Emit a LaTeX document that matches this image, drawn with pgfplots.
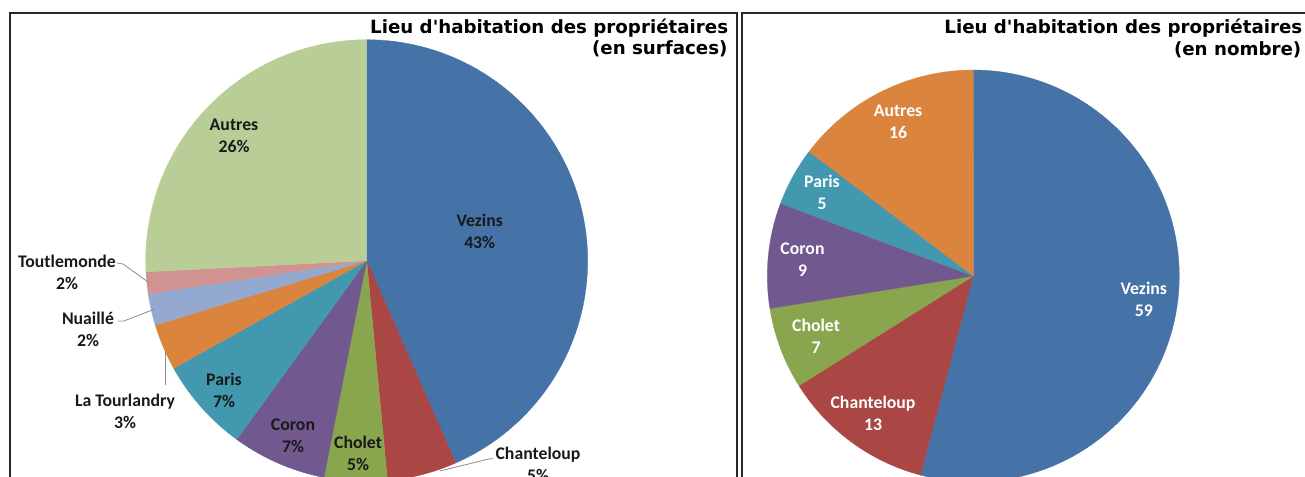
\documentclass[border=0pt]{standalone}
\usepackage{pgfplots}
\pgfplotsset{compat=1.18}
\usepackage{fontspec}
\setmainfont{Carlito}
\newfontfamily\titlefont{DejaVu Sans}
\definecolor{cVez}{HTML}{4572A7}
\definecolor{cCha}{HTML}{AA4643}
\definecolor{cCho}{HTML}{89A54E}
\definecolor{cCor}{HTML}{71588F}
\definecolor{cPar}{HTML}{4198AF}
\definecolor{cOra}{HTML}{DB843D}
\definecolor{cNua}{HTML}{93A9CF}
\definecolor{cTou}{HTML}{D19392}
\definecolor{cAut}{HTML}{B9CD96}
\definecolor{lead}{HTML}{8C8C8C}
% slice: {cx}{cy}{r}{angle from}{angle to}{colour}
\newcommand{\slice}[6]{%
  \addplot[fill=#6, draw=#6, line width=0.3bp, domain=#4:#5, samples=90]
    ({#1+#3*cos(x)},{#2+#3*sin(x)}) -- (axis cs:#1,#2) -- cycle;}
\begin{document}
\begin{tikzpicture}[x=1bp,y=1bp]
\useasboundingbox (0,0) rectangle (1305,477);
\clip (0,0) rectangle (1305,477);
\begin{axis}[at={(0,0)}, anchor=origin, x=1bp, y=1bp, scale only axis,
  xmin=0, xmax=1305, ymin=0, ymax=477, hide axis, clip=true]
% Left pie (en surfaces), shares in %:
% Vezins 43.4, Chanteloup 5.1, Cholet 4.6, Coron 6.9, Paris 6.9,
% La Tourlandry 3.4, Nuaillé 2.3, Toutlemonde 1.6, Autres 25.8
% (angles = 90 - 3.6 * cumulative share, clockwise from 12 o'clock)
\slice{366.7}{216.3}{221}{-66.24}{90}{cVez}
\slice{366.7}{216.3}{221}{-84.60}{-66.24}{cCha}
\slice{366.7}{216.3}{221}{-101.16}{-84.60}{cCho}
\slice{366.7}{216.3}{221}{-126.00}{-101.16}{cCor}
\slice{366.7}{216.3}{221}{-150.84}{-126.00}{cPar}
\slice{366.7}{216.3}{221}{-163.08}{-150.84}{cOra}
\slice{366.7}{216.3}{221}{-171.36}{-163.08}{cNua}
\slice{366.7}{216.3}{221}{-177.12}{-171.36}{cTou}
\slice{366.7}{216.3}{221}{-270.00}{-177.12}{cAut}
% Right pie (en nombre), total 109:
% Vezins 59, Chanteloup 13, Cholet 7, Coron 9, Paris 5, Autres 16
\slice{973.3}{201}{206}{-104.862}{90}{cVez}
\slice{973.3}{201}{206}{-147.798}{-104.862}{cCha}
\slice{973.3}{201}{206}{-170.917}{-147.798}{cCho}
\slice{973.3}{201}{206}{-200.642}{-170.917}{cCor}
\slice{973.3}{201}{206}{-217.156}{-200.642}{cPar}
\slice{973.3}{201}{206}{-270.000}{-217.156}{cOra}
\end{axis}
% frames
\draw[line width=2bp, black!85] (10,463.7) rectangle (736.7,-20);
\draw[line width=2bp, black!85] (741.7,463.7) rectangle (1330,-20);
% titles
\begin{scope}[every node/.style={inner sep=0, font=\titlefont\bfseries\fontsize{18.3}{22}\selectfont, anchor=base east}]
\node at (728.3,443.7) {Lieu d'habitation des propriétaires};
\node at (727.7,422.5) {(en surfaces)};
\node at (1302.5,443.0) {Lieu d'habitation des propriétaires};
\node at (1301.5,421.5) {(en nombre)};
\end{scope}
% leader lines
\draw[lead, line width=0.8bp] (117,214) -- (123,213) -- (149,194.3);
\draw[lead, line width=0.8bp] (118,156) -- (124,156) -- (154,167.7);
\draw[lead, line width=0.8bp] (165.7,125.3) -- (165.7,92);
\draw[lead, line width=0.8bp] (440,6) -- (490,18.3) -- (493,18.3);
% labels left
\begin{scope}[every node/.style={inner sep=0, align=center, text=black!90, font=\bfseries\fontsize{17.8}{22}\selectfont}]
\node at (479.7,245.3) {Vezins\\43\%};
\node at (234,341.2) {Autres\\26\%};
\node at (224,87) {Paris\\7\%};
\node at (293,41) {Coron\\7\%};
\node at (358,23.3) {Cholet\\5\%};
\node at (538,12.3) {Chanteloup\\5\%};
\node at (125,66) {La Tourlandry\\3\%};
\node at (88,148) {Nuaillé\\2\%};
\node at (67,204.5) {Toutlemonde\\2\%};
\end{scope}
% labels right
\begin{scope}[every node/.style={inner sep=0, align=center, text=white, font=\bfseries\fontsize{17.8}{22}\selectfont}]
\node at (898,355) {Autres\\16};
\node at (822,285) {Paris\\5};
\node at (802.5,217.5) {Coron\\9};
\node at (816,141) {Cholet\\7};
\node at (873,63.5) {Chanteloup\\13};
\node at (1143.8,178) {Vezins\\59};
\end{scope}
\end{tikzpicture}
\end{document}
